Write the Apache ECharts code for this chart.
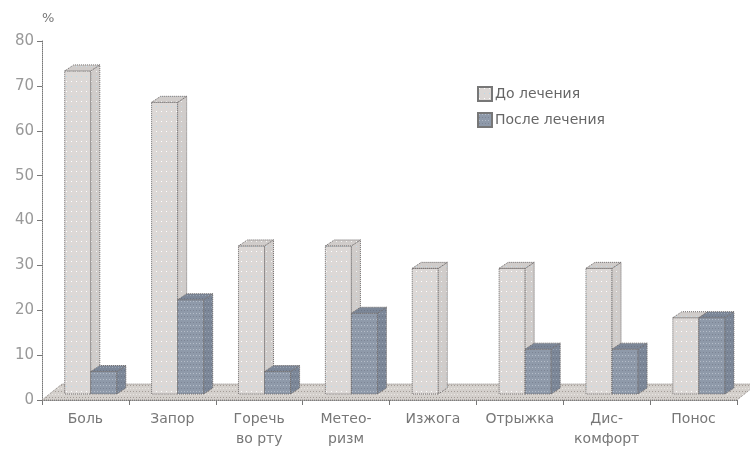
<!DOCTYPE html>
<html>
<head>
<meta charset="utf-8">
<script src="https://cdn.jsdelivr.net/npm/echarts@6/dist/echarts.min.js"></script>
<style>
  html, body { margin: 0; padding: 0; background: #fff; }
  #main { width: 750px; height: 449px; }
</style>
</head>
<body>
<div id="main"></div>
<script>
var categories = ['Боль', 'Запор', 'Горечь\nво рту', 'Метео-\nризм', 'Изжога', 'Отрыжка', 'Дис-\nкомфорт', 'Понос'];
var beforeVals = [72, 65, 33, 33, 28, 28, 28, 17];
var afterVals = [5, 21, 5, 18, null, 10, 10, 17];
var yTicks = [0, 10, 20, 30, 40, 50, 60, 70, 80];

// маленькие текстуры в точку
function dots(base, c1, c2, step) {
  var cv = document.createElement('canvas');
  cv.width = step; cv.height = step * 2;
  var ctx = cv.getContext('2d');
  ctx.fillStyle = base;
  ctx.fillRect(0, 0, cv.width, cv.height);
  ctx.fillStyle = c1;
  ctx.fillRect(1, 1, 1, 1);
  ctx.fillStyle = c2;
  ctx.fillRect(1, step + 1, 1, 1);
  return { image: cv, repeat: 'repeat' };
}

var pBefore = dots('#dcd8d6', '#ffffff', '#b8dcec', 5);
var pBeforeSide = dots('#d0ccca', '#f4f4f4', '#c4dce8', 5);
var pAfter = dots('#8f9aaa', '#b4bcc8', '#7c8494', 3);
var pAfterSide = dots('#7c8798', '#9aa4b2', '#6c7484', 3);
var pFloor = dots('#d4d0cc', '#a49c96', '#ece8e4', 3);

var DX = 9, DY = -6, SHIFT_X = 1, SHIFT_Y = -6;
var FONT = 'DejaVu Sans';

function barRender(offset, front, side) {
  return function (params, api) {
    var v = api.value(1);
    if (v == null || isNaN(v)) return;
    var i = api.value(0);
    var band = api.size([1, 0])[0];
    var p0 = api.coord([i, 0]);
    var p1 = api.coord([i, v]);
    var w = band * 0.3;
    var x = p0[0] + band * offset + SHIFT_X;
    var base = p0[1] + SHIFT_Y;
    var top = p1[1] + SHIFT_Y;
    var edge = { stroke: '#6e6a6a', lineWidth: 1, lineDash: [1, 1] };
    return {
      type: 'group',
      children: [
        { type: 'rect', shape: { x: x, y: top, width: w, height: base - top },
          style: Object.assign({ fill: front }, edge) },
        { type: 'polygon', shape: { points: [[x + w, top], [x + w + DX, top + DY], [x + w + DX, base + DY], [x + w, base]] },
          style: Object.assign({ fill: side }, edge) },
        { type: 'polygon', shape: { points: [[x, top], [x + DX, top + DY], [x + w + DX, top + DY], [x + w, top]] },
          style: Object.assign({ fill: side }, edge) }
      ]
    };
  };
}

function floorRender(params, api) {
  var cs = params.coordSys;
  var y = cs.y + cs.height;
  return {
    type: 'polygon',
    shape: { points: [[cs.x, y], [cs.x + cs.width, y], [cs.x + cs.width + 20, y - 16], [cs.x + 20, y - 16]] },
    style: { fill: pFloor, stroke: '#8a8480', lineWidth: 1, lineDash: [1, 1] },
    silent: true
  };
}

var myChart = echarts.init(document.getElementById('main'));
var option = {
  animation: false,
  backgroundColor: '#fff',
  grid: { left: 42, right: 13, top: 41, bottom: 46 },
  legend: {
    orient: 'vertical',
    left: 472, top: 81,
    itemWidth: 14, itemHeight: 14, itemGap: 10,
    icon: 'rect',
    data: ['До лечения', 'После лечения'],
    textStyle: { color: '#666', fontSize: 14, fontFamily: FONT, padding: [0, 0, 0, -2] }
  },
  xAxis: {
    type: 'category',
    data: categories,
    axisLine: { lineStyle: { color: '#777', type: 'dotted' } },
    axisTick: { show: true, length: 5, lineStyle: { color: '#777' } },
    axisLabel: { interval: 0, hideOverlap: false, color: '#777', fontSize: 14, fontFamily: FONT, margin: 9, lineHeight: 20 }
  },
  yAxis: {
    type: 'value',
    min: 0, max: 80, interval: 10,
    name: '%',
    nameGap: 16,
    nameTextStyle: { color: '#777', fontSize: 13, fontFamily: FONT, align: 'left', padding: [0, 0, 0, 0] },
    splitLine: { show: false },
    axisLine: { show: true, lineStyle: { color: '#777', type: 'dotted' } },
    axisTick: { show: true, length: 5, lineStyle: { color: '#777' } },
    axisLabel: {
      color: '#999', fontSize: 15, fontFamily: FONT, margin: 8,
      formatter: function (v) { return yTicks.indexOf(v) >= 0 ? String(v) : ''; }
    }
  },
  series: [
    { type: 'custom', name: 'floor', renderItem: floorRender, data: [[0, 0]], z: 1, silent: true },
    { type: 'custom', name: 'До лечения', renderItem: barRender(-0.25, pBefore, pBeforeSide),
      itemStyle: { color: pBefore, borderColor: '#777', borderWidth: 1 },
      data: beforeVals.map(function (v, i) { return [i, v]; }), z: 3 },
    { type: 'custom', name: 'После лечения', renderItem: barRender(0.05, pAfter, pAfterSide),
      itemStyle: { color: pAfter, borderColor: '#777', borderWidth: 1 },
      data: afterVals.map(function (v, i) { return [i, v]; }), z: 4 }
  ]
};
myChart.setOption(option);
</script>
</body>
</html>
